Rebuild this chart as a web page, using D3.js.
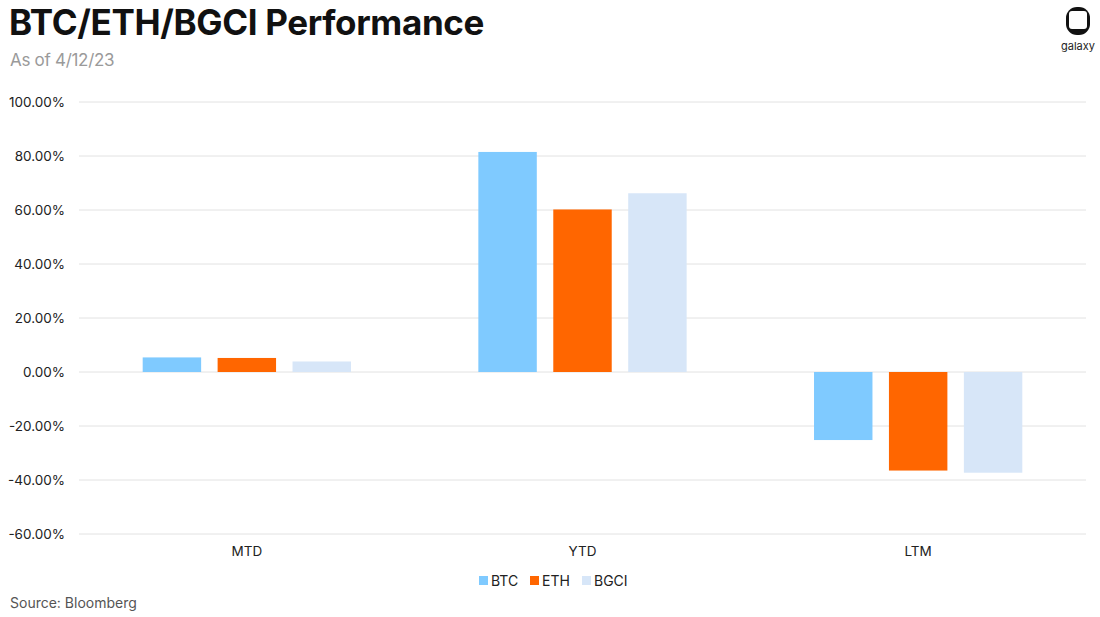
<!DOCTYPE html>
<html>
<head>
<meta charset="utf-8">
<script src="https://cdn.jsdelivr.net/npm/d3@7"></script>
<style>
  body { margin: 0; background: #fff; }
  svg { display: block; font-family: Inter, "Noto Sans", sans-serif; }
</style>
</head>
<body>
<svg id="chart" width="1100" height="617"></svg>
<script>
// data
const categories = ['MTD', 'YTD', 'LTM'];
const seriesNames = ['BTC', 'ETH', 'BGCI'];
const btc = [5.4, 81.5, -25.2];
const eth = [5.2, 60.2, -36.5];
const bgci = [3.9, 66.2, -37.3];
const yTicks = [-60, -40, -20, 0, 20, 40, 60, 80, 100];
const colors = ['#7fcaff', '#ff6600', '#d7e6f8'];

const series = [btc, eth, bgci];
const svg = d3.select('#chart');

const margin = { left: 79, right: 14, top: 102, bottom: 83 };
const width = 1100, height = 617;

const x = d3.scaleBand().domain(categories)
  .range([margin.left, width - margin.right]).paddingInner(0).paddingOuter(0);
const x1 = d3.scaleBand().domain(seriesNames)
  .range([0, x.bandwidth()]).paddingInner(0.22).paddingOuter(0.85);
const y = d3.scaleLinear().domain([-60, 100]).range([height - margin.bottom, margin.top]);

// title
svg.append('text').attr('x', 9).attr('y', 35)
  .attr('font-size', 35).attr('font-weight', 700).attr('fill', '#111')
  .attr('letter-spacing', -0.35)
  .text('BTC/ETH/BGCI Performance');
svg.append('text').attr('x', 10).attr('y', 66)
  .attr('font-size', 17).attr('fill', '#9a9a9a').attr('letter-spacing', -0.3)
  .text('As of 4/12/23');

// gridlines
svg.append('g').selectAll('line').data(yTicks).enter().append('line')
  .attr('x1', margin.left).attr('x2', width - margin.right)
  .attr('y1', d => y(d)).attr('y2', d => y(d))
  .attr('stroke', '#e2e2e2').attr('stroke-width', 1);

// y labels
svg.append('g').selectAll('text').data(yTicks).enter().append('text')
  .attr('x', 65).attr('y', d => y(d) + 5)
  .attr('text-anchor', 'end').attr('font-size', 13.5).attr('fill', '#222')
  .text(d => d.toFixed(2) + '%');

// bars
const groups = svg.append('g').selectAll('g').data(categories).enter().append('g')
  .attr('transform', d => `translate(${x(d)},0)`);
groups.selectAll('rect')
  .data((c, i) => seriesNames.map((s, j) => ({ s, j, v: series[j][i] })))
  .enter().append('rect')
  .attr('x', d => x1(d.s))
  .attr('width', x1.bandwidth())
  .attr('y', d => y(Math.max(0, d.v)))
  .attr('height', d => Math.abs(y(d.v) - y(0)))
  .attr('fill', d => colors[d.j]);

// category labels
svg.append('g').selectAll('text').data(categories).enter().append('text')
  .attr('x', d => x(d) + x.bandwidth() / 2).attr('y', 556)
  .attr('text-anchor', 'middle').attr('font-size', 13.5).attr('fill', '#222')
  .text(d => d);

// legend
const legendX = [479, 530, 582];
const leg = svg.append('g').selectAll('g').data(seriesNames).enter().append('g')
  .attr('transform', (d, i) => `translate(${legendX[i]},576)`);
leg.append('rect').attr('width', 9).attr('height', 9).attr('fill', (d, i) => colors[i]);
leg.append('text').attr('x', 12).attr('y', 9.5).attr('font-size', 14).attr('fill', '#222').text(d => d);

// source
svg.append('text').attr('x', 10).attr('y', 608)
  .attr('font-size', 14).attr('fill', '#555').text('Source: Bloomberg');

// logo
const logo = svg.append('g').attr('transform', 'translate(1078,21)');
logo.append('rect').attr('x', -12).attr('y', -14).attr('width', 24).attr('height', 28)
  .attr('rx', 11).attr('fill', '#111');
logo.append('rect').attr('x', -9).attr('y', -10).attr('width', 18).attr('height', 18)
  .attr('rx', 3).attr('fill', '#fff');
svg.append('text').attr('x', 1078).attr('y', 50).attr('text-anchor', 'middle')
  .attr('font-size', 11).attr('fill', '#222').text('galaxy');
</script>
</body>
</html>
